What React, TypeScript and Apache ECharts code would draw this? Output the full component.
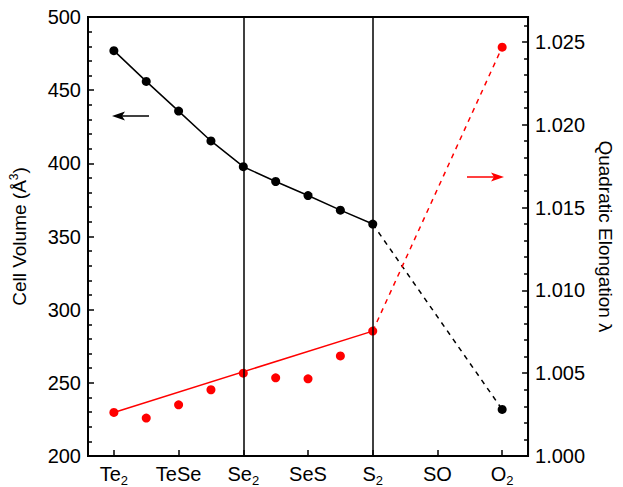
import React, { useEffect, useRef } from "react";
import * as echarts from "echarts";

// composition index (half steps between tick labels)
const compIndex = [0, 1, 2, 3, 4, 5, 6, 7, 8, 12];
const cellVolume = [477, 456, 435.7, 415.3, 397.7, 387.6, 378, 368, 358.5, 231.8];
const elongation = [1.00263, 1.00229, 1.00309, 1.0040, 1.0050, 1.00472, 1.00466, 1.00604, 1.00754, 1.02468];
const tickValues = [0, 2, 4, 6, 8, 10, 12];
const tickNames = ["Te", "TeSe", "Se", "SeS", "S", "SO", "O"];
const tickSubs = ["2", "", "2", "", "2", "", "2"];
const dividerLines = [4, 8];

const FONT = "'Liberation Sans', Arial, Helvetica, sans-serif";

export default function App() {
  const ref = useRef<HTMLDivElement>(null);
  useEffect(() => {
    if (!ref.current) return;
    document.body.style.margin = "0";
    const chart = echarts.init(ref.current, null, { renderer: "svg" });
    const s2 = 8; // index within arrays of S2 point
    const volSolid = compIndex.slice(0, 9).map((x, i) => [x, cellVolume[i]]);
    const volDash = [[compIndex[s2], cellVolume[s2]], [compIndex[9], cellVolume[9]]];
    const elFit = [[compIndex[0], elongation[0]], [compIndex[s2], elongation[s2]]];
    const elDash = [[compIndex[s2], elongation[s2]], [compIndex[9], elongation[9]]];
    const black = "#000";
    const red = "#ff0000";
    chart.setOption({
      animation: false,
      textStyle: { fontFamily: FONT, color: black },
      grid: {
        left: 88, right: 92, top: 17, bottom: 27,
        show: true, borderColor: black, borderWidth: 2,
      },
      xAxis: {
        type: "value",
        min: -0.8,
        max: 12.8,
        splitLine: { show: false },
        axisLine: { onZero: false, lineStyle: { color: black, width: 2 } },
        axisTick: { inside: true, length: 6, customValues: tickValues, lineStyle: { color: black, width: 1.5 } },
        axisLabel: {
          customValues: tickValues,
          color: black,
          fontSize: 20,
          fontFamily: FONT,
          margin: 8,
          formatter: (v: number) => {
            const i = tickValues.indexOf(Math.round(v));
            if (i < 0) return "";
            return tickSubs[i] ? `{n|${tickNames[i]}}{s|${tickSubs[i]}}` : `{n|${tickNames[i]}}`;
          },
          rich: {
            n: { fontSize: 20, fontFamily: FONT, color: black, verticalAlign: "top", lineHeight: 22 },
            s: { fontSize: 13, fontFamily: FONT, color: black, verticalAlign: "top", lineHeight: 22, padding: [10, 0, 0, 0] },
          },
        },
      },
      yAxis: [
        {
          type: "value",
          min: 200,
          max: 500,
          interval: 50,
          position: "left",
          name: "{n|Cell Volume (Å}{p|3}{n|)}",
          nameLocation: "middle",
          nameRotate: 90,
          nameGap: 58,
          nameTextStyle: {
            rich: {
              n: { fontSize: 19, fontFamily: FONT, color: black },
              p: { fontSize: 12, fontFamily: FONT, color: black, padding: [0, 0, 10, 0] },
            },
          },
          splitLine: { show: false },
          axisLine: { show: true, onZero: false, lineStyle: { color: black, width: 2 } },
          axisTick: { inside: true, length: 6, lineStyle: { color: black, width: 1.5 } },
          minorTick: { show: true, splitNumber: 5, length: 4, lineStyle: { color: black, width: 1.5 } },
          axisLabel: { color: black, fontSize: 20, fontFamily: FONT, margin: 7 },
        },
        {
          type: "value",
          min: 1.0,
          max: 1.0265,
          interval: 0.005,
          position: "right",
          name: "Quadratic Elongation λ",
          nameLocation: "middle",
          nameRotate: -90,
          nameGap: 66,
          nameTextStyle: { fontSize: 19, fontFamily: FONT, color: black },
          splitLine: { show: false },
          axisLine: { show: true, onZero: false, lineStyle: { color: black, width: 2 } },
          axisTick: { inside: true, length: 6, lineStyle: { color: black, width: 1.5 } },
          minorTick: { show: true, splitNumber: 5, length: 4, lineStyle: { color: black, width: 1.5 } },
          axisLabel: {
            color: black, fontSize: 20, fontFamily: FONT, margin: 7, showMaxLabel: false,
            formatter: (v: number) => v.toFixed(3),
          },
        },
      ],
      series: [
        {
          type: "line",
          yAxisIndex: 0,
          data: volSolid,
          symbol: "none",
          lineStyle: { color: black, width: 1.5 },
          markLine: {
            silent: true,
            symbol: "none",
            label: { show: false },
            lineStyle: { color: black, width: 1.5, type: "solid" },
            data: dividerLines.map((x) => ({ xAxis: x })),
          },
        },
        {
          type: "line",
          yAxisIndex: 0,
          data: volDash,
          symbol: "none",
          lineStyle: { color: black, width: 1.5, type: [5, 5] },
        },
        {
          type: "line",
          yAxisIndex: 1,
          data: elFit,
          symbol: "none",
          lineStyle: { color: red, width: 1.5 },
        },
        {
          type: "line",
          yAxisIndex: 1,
          data: elDash,
          symbol: "none",
          lineStyle: { color: red, width: 1.5, type: [5, 5] },
        },
        {
          type: "scatter",
          yAxisIndex: 0,
          data: compIndex.map((x, i) => [x, cellVolume[i]]),
          symbol: "circle",
          symbolSize: 9,
          itemStyle: { color: black, opacity: 1 },
        },
        {
          type: "scatter",
          yAxisIndex: 1,
          data: compIndex.map((x, i) => [x, elongation[i]]),
          symbol: "circle",
          symbolSize: 9,
          itemStyle: { color: red, opacity: 1 },
        },
      ],
      graphic: [
        { type: "line", shape: { x1: 120, y1: 116, x2: 149, y2: 116 }, style: { stroke: black, lineWidth: 1.5 } },
        { type: "polygon", shape: { points: [[112, 116], [125, 111.5], [122, 116], [125, 120.5]] }, style: { fill: black } },
        { type: "line", shape: { x1: 467, y1: 177, x2: 496, y2: 177 }, style: { stroke: red, lineWidth: 1.5 } },
        { type: "polygon", shape: { points: [[504, 177], [491, 172.5], [494, 177], [491, 181.5]] }, style: { fill: red } },
      ],
    });
    return () => chart.dispose();
  }, []);
  return <div ref={ref} style={{ width: 623, height: 487 }} />;
}
